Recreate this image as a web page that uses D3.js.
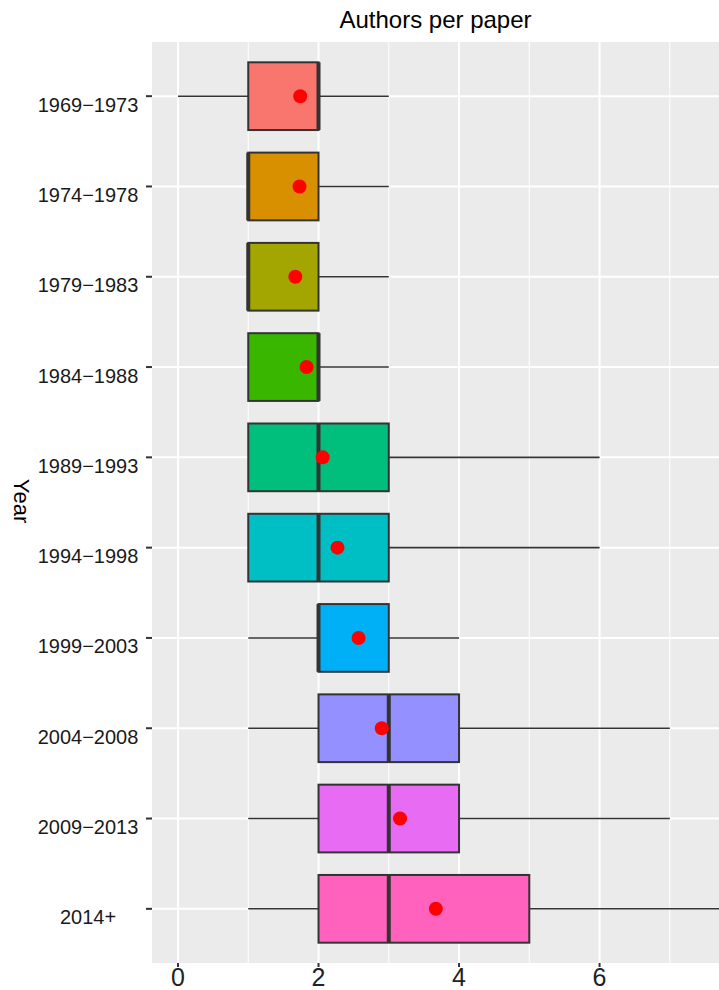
<!DOCTYPE html>
<html>
<head>
<meta charset="utf-8">
<script src="https://cdn.jsdelivr.net/npm/d3@7.9.0/dist/d3.min.js"></script>
<style>
  body { margin: 0; background: #fff; }
  svg { display: block; font-family: "Liberation Sans", Arial, sans-serif; }
</style>
</head>
<body>
<svg id="chart" width="719" height="990"></svg>
<script>
// boxplot stats
const years = ['1969\u22121973', '1974\u22121978', '1979\u22121983', '1984\u22121988', '1989\u22121993',
  '1994\u22121998', '1999\u22122003', '2004\u22122008', '2009\u22122013', '2014+'];
const whiskerLow = [0, 1, 1, 1, 1, 1, 1, 1, 1, 1];
const q1 = [1, 1, 1, 1, 1, 1, 2, 2, 2, 2];
const medians = [2, 1, 1, 2, 2, 2, 2, 3, 3, 3];
const q3 = [2, 2, 2, 2, 3, 3, 3, 4, 4, 5];
const whiskerHigh = [3, 3, 3, 3, 6, 6, 4, 7, 7, 8];
const means = [1.74, 1.73, 1.67, 1.83, 2.06, 2.27, 2.57, 2.9, 3.16, 3.67];
const colors = ['#F8766D', '#D89000', '#A3A500', '#39B600', '#00BF7D',
  '#00BFC4', '#00B0F6', '#9590FF', '#E76BF3', '#FF62BC'];
const xTicks = [0, 2, 4, 6];
const xMinor = [1, 3, 5, 7];

const panel = { left: 152, right: 719, top: 42, bottom: 963 };
const svg = d3.select('#chart');

const x = d3.scaleLinear().domain([-0.37, 7.7]).range([panel.left, panel.right]);
const y = d3.scalePoint().domain(years).range([panel.top, panel.bottom]).padding(0.6);
const boxH = y.step() * 0.75;

svg.append('defs').append('clipPath').attr('id', 'clip')
  .append('rect')
  .attr('x', panel.left).attr('y', panel.top)
  .attr('width', panel.right - panel.left).attr('height', panel.bottom - panel.top);

svg.append('rect')
  .attr('x', panel.left).attr('y', panel.top)
  .attr('width', panel.right - panel.left).attr('height', panel.bottom - panel.top)
  .attr('fill', '#EBEBEB');

const grid = svg.append('g');
xMinor.forEach(v => {
  grid.append('line')
    .attr('x1', x(v)).attr('x2', x(v)).attr('y1', panel.top).attr('y2', panel.bottom)
    .attr('stroke', '#fff').attr('stroke-width', 1);
});
xTicks.forEach(v => {
  grid.append('line')
    .attr('x1', x(v)).attr('x2', x(v)).attr('y1', panel.top).attr('y2', panel.bottom)
    .attr('stroke', '#fff').attr('stroke-width', 2);
});
years.forEach(yr => {
  grid.append('line')
    .attr('x1', panel.left).attr('x2', panel.right).attr('y1', y(yr)).attr('y2', y(yr))
    .attr('stroke', '#fff').attr('stroke-width', 2);
});

const marks = svg.append('g').attr('clip-path', 'url(#clip)');
years.forEach((yr, i) => {
  const cy = y(yr);
  const g = marks.append('g');
  // whiskers
  g.append('line')
    .attr('x1', x(whiskerLow[i])).attr('x2', x(q1[i])).attr('y1', cy).attr('y2', cy)
    .attr('stroke', '#333').attr('stroke-width', 1.6);
  g.append('line')
    .attr('x1', x(q3[i])).attr('x2', x(whiskerHigh[i])).attr('y1', cy).attr('y2', cy)
    .attr('stroke', '#333').attr('stroke-width', 1.6);
  g.append('rect')
    .attr('x', x(q1[i])).attr('y', cy - boxH / 2)
    .attr('width', x(q3[i]) - x(q1[i])).attr('height', boxH)
    .attr('fill', colors[i]).attr('stroke', '#333').attr('stroke-width', 2);
  g.append('line')
    .attr('x1', x(medians[i])).attr('x2', x(medians[i]))
    .attr('y1', cy - boxH / 2).attr('y2', cy + boxH / 2)
    .attr('stroke', '#333').attr('stroke-width', 4);
  g.append('circle')
    .attr('cx', x(means[i])).attr('cy', cy).attr('r', 7)
    .attr('fill', '#FF0000');
});

// y axis
const yAxis = svg.append('g');
years.forEach(yr => {
  yAxis.append('line')
    .attr('x1', panel.left - 6).attr('x2', panel.left).attr('y1', y(yr)).attr('y2', y(yr))
    .attr('stroke', '#333').attr('stroke-width', 2);
  yAxis.append('text')
    .attr('x', 88).attr('y', y(yr) + 15.5)
    .attr('text-anchor', 'middle')
    .attr('font-size', 20).attr('fill', '#1a1a1a')
    .text(yr);
});

// x axis
const xAxis = svg.append('g');
xTicks.forEach(v => {
  xAxis.append('line')
    .attr('x1', x(v)).attr('x2', x(v)).attr('y1', panel.bottom).attr('y2', panel.bottom + 4)
    .attr('stroke', '#333').attr('stroke-width', 2);
  xAxis.append('text')
    .attr('x', x(v)).attr('y', 986)
    .attr('text-anchor', 'middle')
    .attr('font-size', 25).attr('fill', '#222')
    .text(v);
});

svg.append('text')
  .attr('transform', 'translate(14,501) rotate(90)')
  .attr('text-anchor', 'middle')
  .attr('font-size', 22).attr('fill', '#000')
  .text('Year');

svg.append('text')
  .attr('x', (panel.left + panel.right) / 2).attr('y', 28)
  .attr('text-anchor', 'middle')
  .attr('font-size', 24).attr('fill', '#000')
  .text('Authors per paper');
</script>
</body>
</html>
